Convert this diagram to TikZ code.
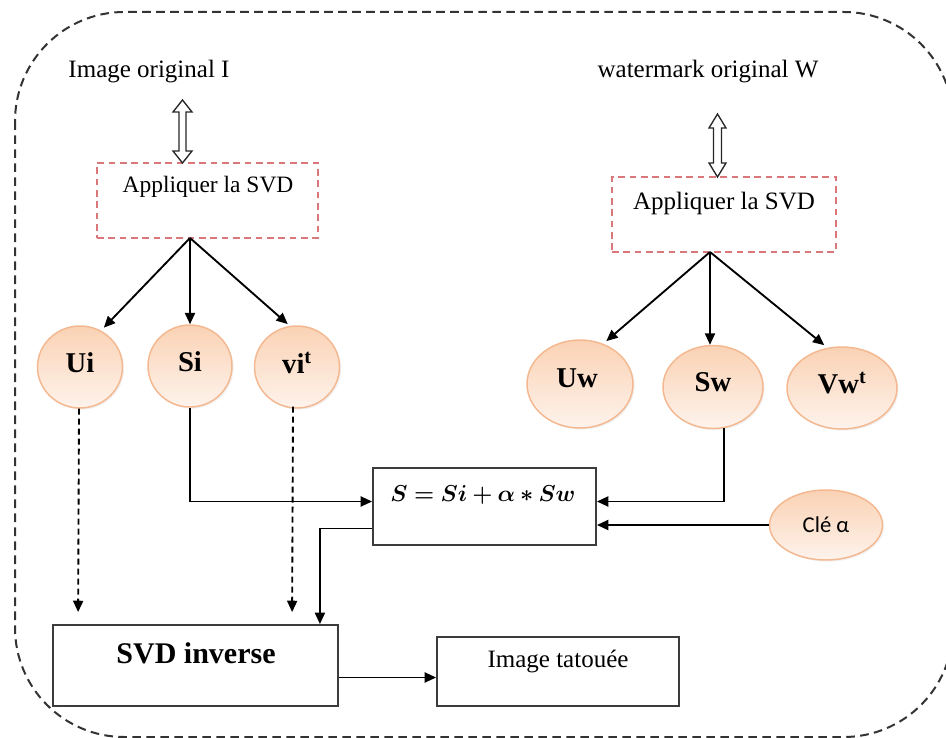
\documentclass[tikz,border=0pt]{standalone}
\usepackage{bm}
\usepackage{fontspec}
\setmainfont{Liberation Serif}
\newfontfamily\clefont{Carlito}
\usetikzlibrary{shapes.geometric,fit,calc,arrows.meta,shadows}
\definecolor{peachtop}{HTML}{FAD2B4}
\definecolor{peachbot}{HTML}{FEF3EC}
\definecolor{peachline}{HTML}{F4B890}
\definecolor{redbox}{HTML}{D9777A}
\definecolor{boxline}{HTML}{3C3C3C}
\tikzset{
  outerframe/.style={draw=black!80, line width=1.5pt, dash pattern=on 6.5pt off 4pt},
  svdbox/.style={draw=redbox, line width=1.2pt, dash pattern=on 5pt off 3.5pt, inner sep=0pt},
  plainbox/.style={draw=boxline, line width=1.4pt, inner sep=0pt},
  bubble/.style={ellipse, draw=peachline, line width=1.1pt, top color=peachtop, bottom color=peachbot, inner sep=0pt,
    drop shadow={opacity=0.12, shadow xshift=1.2pt, shadow yshift=-1.2pt}},
  bubtext/.style={font=\fontsize{21.5}{24}\selectfont\bfseries},
  lbl/.style={font=\fontsize{18.75}{22}\selectfont, inner sep=0pt},
  formfont/.style={font=\fontsize{18.5}{22}\selectfont, inner sep=0pt},
  conn/.style={draw=black, line width=1.4pt, -{Triangle[length=8.5pt,width=7.5pt]}},
  dconn/.style={draw=black, line width=1.4pt, dash pattern=on 4.5pt off 3pt, -{Triangle[length=8.5pt,width=7.5pt]}},
  hollow/.style={draw=black!85, line width=1pt, fill=white, line join=miter}
}
\newcommand{\hollowarrow}[5]{%
  \path[hollow] (#1) -- ++(#4,#5) -- ++({-(#4-#3)},0) -- ($(#2)+(#3,-#5)$) -- ++({#4-#3},0) -- (#2)
    -- ++(-#4,-#5) -- ++({#4-#3},0) -- ($(#1)+(-#3,#5)$) -- ++({-(#4-#3)},0) -- cycle;}
\begin{document}
\begin{tikzpicture}[x=0.75pt,y=-0.75pt]
\useasboundingbox (0,0) rectangle (946,738);
% outer frame
\draw[outerframe, rounded corners=82pt] (15,12) rectangle (953,737);

% titles
\node[lbl] (imgI) at (149,72) {Image original I};
\node[lbl] (wmW) at (708,72) {watermark original W};

% SVD boxes
\coordinate (s1a) at (97,163); \coordinate (s1b) at (318,238);
\node[svdbox, fit=(s1a)(s1b)] (svd1) {};
\node[font=\fontsize{17.6}{21}\selectfont, inner sep=0pt] (svd1t) at (208,187) {Appliquer la SVD};
\coordinate (s2a) at (612,177); \coordinate (s2b) at (836,252);
\node[svdbox, fit=(s2a)(s2b)] (svd2) {};
\node[lbl] (svd2t) at (724,203) {Appliquer la SVD};

% hollow double arrows
\coordinate (da1t) at (182.5,100); \coordinate (da1b) at (182.5,163);
\hollowarrow{da1t}{da1b}{3.5}{9.5}{12}
\coordinate (da2t) at (717.5,114); \coordinate (da2b) at (717.5,177);
\hollowarrow{da2t}{da2b}{4}{8.5}{14}

% bubbles left
\node[bubble, minimum width=63.75pt, minimum height=61.5pt] (ui) at (80,367) {};
\node[bubtext] (uit) at ($(ui)+(0,-4)$) {Ui};
\node[bubble, minimum width=63pt, minimum height=61.5pt] (si) at (190,366) {};
\node[bubtext] (sit) at ($(si)+(0,-4)$) {Si};
\node[bubble, minimum width=63.75pt, minimum height=61.5pt] (vi) at (297,367) {};
\node[bubtext] (vit) at ($(vi)+(0,-4)$) {vi\textsuperscript{t}};

% bubbles right
\node[bubble, minimum width=79.5pt, minimum height=66pt] (uw) at (580,384) {};
\node[bubtext] (uwt) at ($(uw)+(-3,-6)$) {Uw};
\node[bubble, minimum width=75pt, minimum height=62.25pt] (sw) at (713,387) {};
\node[bubtext] (swt) at ($(sw)+(0,-5)$) {Sw};
\node[bubble, minimum width=82.5pt, minimum height=61.5pt] (vw) at (842,388) {};
\node[bubtext] (vwt) at ($(vw)+(0,-5)$) {Vw\textsuperscript{t}};

% cle
\node[bubble, minimum width=84.75pt, minimum height=52.5pt] (cle) at (826,525) {};
\node[font=\clefont\fontsize{17}{20}\selectfont] (clet) at (cle) {Clé α};

% formula box
\coordinate (fa) at (373,468); \coordinate (fb) at (596,545);
\node[plainbox, fit=(fa)(fb)] (formula) {};
\node[formfont] (formt) at (483,495) {$\bm{S=Si+\alpha\ast Sw}$};

% bottom boxes
\coordinate (ia) at (53,625); \coordinate (ib) at (338,706);
\node[plainbox, fit=(ia)(ib)] (svdinv) {};
\node[font=\fontsize{22.5}{26}\selectfont\bfseries, inner sep=0pt] (svdinvt) at (196,653) {SVD inverse};
\coordinate (ta) at (437,637); \coordinate (tb) at (679,706);
\node[plainbox, fit=(ta)(tb)] (tat) {};
\node[lbl] (tatt) at (558,662) {Image tatouée};

% tree connectors
\coordinate (b1) at (190,238);
\draw[conn, shorten >=3pt] (b1) -- (ui.60);
\draw[conn] (b1) -- (b1 |- si.north);
\draw[conn, shorten >=2pt] (b1) -- (vi.100);
\coordinate (b2) at (710,252);
\draw[conn, shorten >=3pt] (b2) -- (uw.60);
\draw[conn] (b2) -- (b2 |- sw.north);
\draw[conn, shorten >=3pt] (b2) -- (vw.110);

% to formula
\draw[conn] (si.south) |- ($(formula.west)+(0,-5)$);
\draw[conn] (sw.-75) |- ($(formula.east)+(0,-5)$);
\draw[conn] (cle.west) -- (formula.east |- cle.west);

% formula to svd inverse
\draw[conn] ($(formula.west)+(0,22)$) -| ($(svdinv.north east)+(-19,0)$);

% dashed from Ui and vi
\draw[dconn, shorten >=9pt] ($(ui.south)+(-1,0)$) -- ($(svdinv.north west)+(26,0)$);
\draw[dconn, shorten >=9pt] ($(vi.south)+(-4,-2)$) -- ($(svdinv.north west)+(240,0)$);

% svd inverse to tatouee
\coordinate (invout) at ($(svdinv.east)+(0,12)$);
\draw[conn] (invout) -- (tat.west |- invout);
\end{tikzpicture}
\end{document}
